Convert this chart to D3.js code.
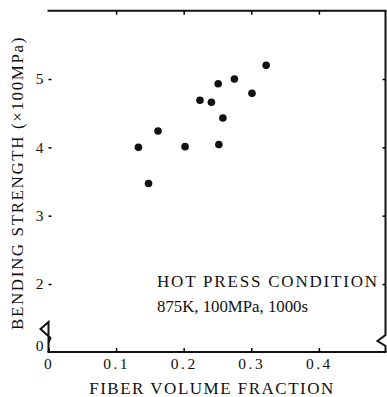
<!DOCTYPE html>
<html>
<head>
<meta charset="utf-8">
<script src="https://cdn.jsdelivr.net/npm/d3@7"></script>
<style>
  body { margin: 0; background: #fff; }
  text { font-family: "Liberation Serif", "Times New Roman", serif; fill: #111; }
  .tick text { font-size: 15.5px; }
</style>
</head>
<body>
<div id="chart"></div>
<script>
// fiber volume fraction vs bending strength (x100MPa)
const fiberFraction = [0.133, 0.148, 0.162, 0.202, 0.224, 0.241, 0.251, 0.252, 0.258, 0.275, 0.301, 0.322];
const bendStrength  = [4.00, 3.47, 4.24, 4.01, 4.69, 4.66, 4.93, 4.04, 4.43, 5.00, 4.79, 5.20];
const xTicks = [0, 0.1, 0.2, 0.3, 0.4];
const yTicks = [2, 3, 4, 5];
const noteLines = ["HOT PRESS CONDITION", "875K, 100MPa, 1000s"];

const data = fiberFraction.map((f, i) => ({x: f, y: bendStrength[i]}));

const W = 387, H = 397;
const svg = d3.select("#chart").append("svg")
    .attr("width", W)
    .attr("height", H);

// x: 0 .. 0.5, y broken between 0 and 2
const x = d3.scaleLinear().domain([0, 0.5]).range([48.5, 386.5]);
const y = d3.scaleLinear().domain([0, 2, 6]).range([352, 284, 10.7]);

const pL = x(0), pR = 385.5, pT = y(6), pB = y(0);

// frame with the axis breaks
const frame = svg.append("g")
    .attr("fill", "none")
    .attr("stroke", "#111")
    .attr("stroke-width", 2);

frame.append("path")
    .attr("d", `M${pL},${pB}L${pL},${pB-30}L${pL-8},${pB-23}L${pL+2},${pB-14}L${pL},${pB-9}L${pL},${pB}`)
frame.append("path")
    .attr("d", `M${pL-1},${pB}L${pR+1},${pB}`)
frame.append("path")
    .attr("d", `M${pL-1},${pT}L${pR+1},${pT}`)
frame.append("path")
    .attr("d", `M${pR},${pT}L${pR},${pB-17}L${pR-8},${pB-11}L${pR},${pB-6}L${pR},${pB}`)

// axes with inward ticks
svg.append("g")
    .attr("transform", `translate(0,${pB})`)
    .call(d3.axisBottom(x).tickValues(xTicks).tickSize(-4).tickPadding(6)
      .tickFormat(d => d === 0 ? "0" : d3.format(".1f")(d)))
    .call(g => g.select(".domain").remove())
    .call(g => g.selectAll(".tick line").attr("stroke-width", 1.5))
    .call(g => g.selectAll(".tick text").attr("letter-spacing", "2.5px"));

svg.append("g")
    .attr("transform", `translate(0,${pT})`)
    .call(d3.axisTop(x).tickValues(xTicks.slice(1)).tickSize(-4).tickFormat(""))
    .call(g => g.select(".domain").remove())
    .call(g => g.selectAll(".tick line").attr("stroke-width", 1.5));

svg.append("g")
    .attr("transform", `translate(${pL},0)`)
    .call(d3.axisLeft(y).tickValues(yTicks).tickSize(-3).tickPadding(5)
      .tickFormat(d3.format("d")))
    .call(g => g.select(".domain").remove())
    .call(g => g.selectAll(".tick line").attr("stroke-width", 1.5));

svg.append("g")
    .attr("transform", `translate(${pR},0)`)
    .call(d3.axisRight(y).tickValues(yTicks).tickSize(-3).tickFormat(""))
    .call(g => g.select(".domain").remove())
    .call(g => g.selectAll(".tick line").attr("stroke-width", 1.5));

// the "0" at the broken origin
svg.append("text")
    .attr("x", pL - 5)
    .attr("y", pB - 1)
    .attr("text-anchor", "end")
    .style("font-size", "15.5px")
    .text("0");

// points
svg.append("g")
  .selectAll("circle")
  .data(data)
  .join("circle")
    .attr("cx", d => x(d.x))
    .attr("cy", d => y(d.y))
    .attr("r", 3.8)
    .attr("fill", "#111");

// note
svg.append("g")
  .selectAll("text")
  .data(noteLines)
  .join("text")
    .attr("x", 157)
    .attr("y", (d, i) => 287 + i * 25)
    .attr("letter-spacing", (d, i) => i === 0 ? "1.8px" : "0px")
    .style("font-size", (d, i) => i === 0 ? "17px" : "16.8px")
    .text(d => d);

// axis titles
svg.append("text")
    .attr("x", 212)
    .attr("y", 394)
    .attr("text-anchor", "middle")
    .attr("letter-spacing", "1.5px")
    .style("font-size", "17px")
    .text("FIBER VOLUME FRACTION");

svg.append("text")
    .attr("transform", "translate(23,183) rotate(-90)")
    .attr("text-anchor", "middle")
    .attr("letter-spacing", "1.6px")
    .style("font-size", "17px")
    .text("BENDING STRENGTH (×100MPa)");
</script>
</body>
</html>
